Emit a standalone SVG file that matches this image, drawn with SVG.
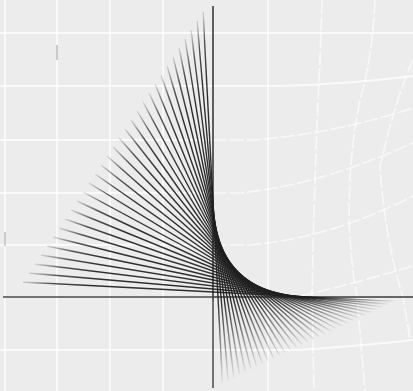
<svg xmlns="http://www.w3.org/2000/svg" width="413" height="391" viewBox="0 0 413 391">
<defs>
<linearGradient id="fade" x1="0" y1="0" x2="1" y2="1">
<stop offset="0" stop-color="#1e1e1e" stop-opacity="0.1"/>
<stop offset="0.08" stop-color="#1e1e1e" stop-opacity="0.75"/>
<stop offset="0.18" stop-color="#1e1e1e" stop-opacity="0.92"/>
<stop offset="0.78" stop-color="#1e1e1e" stop-opacity="0.92"/>
<stop offset="0.88" stop-color="#1e1e1e" stop-opacity="0.55"/>
<stop offset="1" stop-color="#1e1e1e" stop-opacity="0.05"/>
</linearGradient>
<style>
.g{fill:none;stroke:#ffffff;stroke-width:1.8;stroke-opacity:0.75}
.gd{fill:none;stroke:#ffffff;stroke-width:1.6;stroke-opacity:0.65;stroke-dasharray:14 3}
.s line{stroke:url(#fade);stroke-width:1.4;fill:none}
.ax{stroke:#3a3a3a;stroke-width:1.6;fill:none}
</style>
</defs>
<rect width="413" height="391" fill="#ececec"/>
<g id="grid">
<path class="g" d="M0 33 H413"/>
<path class="g" d="M0 86 H280 Q350 84 413 76"/>
<path class="g" d="M0 140 H213"/>
<path class="gd" d="M213 140 H250 Q330 135 413 108"/>
<path class="g" d="M0 193 H213"/>
<path class="gd" d="M213 193 H240 Q320 185 413 143"/>
<path class="g" d="M0 245 H213"/>
<path class="gd" d="M213 245 H250 Q330 238 413 196"/>
<path class="gd" d="M300 296 Q360 282 413 266"/>
<path class="g" d="M0 350 H300 Q360 346 413 340"/>
<path class="g" d="M5 0 V391"/>
<path class="g" d="M57 0 V391"/>
<path class="g" d="M110 0 V391"/>
<path class="g" d="M163 0 V391"/>
<path class="g" d="M268 0 V391"/>
<path class="gd" d="M322 0 L320 60 Q314 180 312 297 L314 391"/>
<path class="gd" d="M375 0 Q372 60 360 100 Q340 200 357 297 L365 391"/>
<path class="gd" d="M413 60 Q395 100 380 167 Q385 240 403 297 L410 340"/>
<path d="M57 45 V60" stroke="#9a9a9a" stroke-width="1"/>
<path d="M5 232 V246" stroke="#a0a0a0" stroke-width="1"/>
</g>
<g id="axes">
<line class="ax" x1="213" y1="6" x2="213" y2="300"/>
<line x1="213" y1="300" x2="213" y2="388" stroke="#4a4a4a" stroke-width="1.5"/>
<line x1="3" y1="297" x2="213" y2="297" stroke="#4a4a4a" stroke-width="1.6"/>
<line class="ax" x1="213" y1="297" x2="413" y2="297"/>
</g>
<g id="strings" class="s">
<line x1="23" y1="282" x2="393.5" y2="301.5"/>
<line x1="29" y1="273" x2="387.8" y2="304.2"/>
<line x1="35" y1="264" x2="382.1" y2="306.9"/>
<line x1="41" y1="255" x2="376.4" y2="309.6"/>
<line x1="47" y1="246" x2="370.7" y2="312.3"/>
<line x1="53" y1="237" x2="365" y2="315"/>
<line x1="59" y1="228" x2="359.3" y2="317.7"/>
<line x1="65" y1="219" x2="353.6" y2="320.4"/>
<line x1="71" y1="210" x2="347.9" y2="323.1"/>
<line x1="77" y1="201" x2="342.2" y2="325.8"/>
<line x1="83" y1="192" x2="336.5" y2="328.5"/>
<line x1="89" y1="183" x2="330.8" y2="331.2"/>
<line x1="95" y1="174" x2="325.1" y2="333.9"/>
<line x1="101" y1="165" x2="319.4" y2="336.6"/>
<line x1="107" y1="156" x2="313.7" y2="339.3"/>
<line x1="113" y1="147" x2="308" y2="342"/>
<line x1="119" y1="138" x2="302.3" y2="344.7"/>
<line x1="125" y1="129" x2="296.6" y2="347.4"/>
<line x1="131" y1="120" x2="290.9" y2="350.1"/>
<line x1="137" y1="111" x2="285.2" y2="352.8"/>
<line x1="143" y1="102" x2="279.5" y2="355.5"/>
<line x1="149" y1="93" x2="273.8" y2="358.2"/>
<line x1="155" y1="84" x2="268.1" y2="360.9"/>
<line x1="161" y1="75" x2="262.4" y2="363.6"/>
<line x1="167" y1="66" x2="256.7" y2="366.3"/>
<line x1="173" y1="57" x2="251" y2="369"/>
<line x1="179" y1="48" x2="245.3" y2="371.7"/>
<line x1="185" y1="39" x2="239.6" y2="374.4"/>
<line x1="191" y1="30" x2="233.9" y2="377.1"/>
<line x1="197" y1="21" x2="228.2" y2="379.8"/>
<line x1="203" y1="12" x2="222.5" y2="382.5"/>
</g>
</svg>
